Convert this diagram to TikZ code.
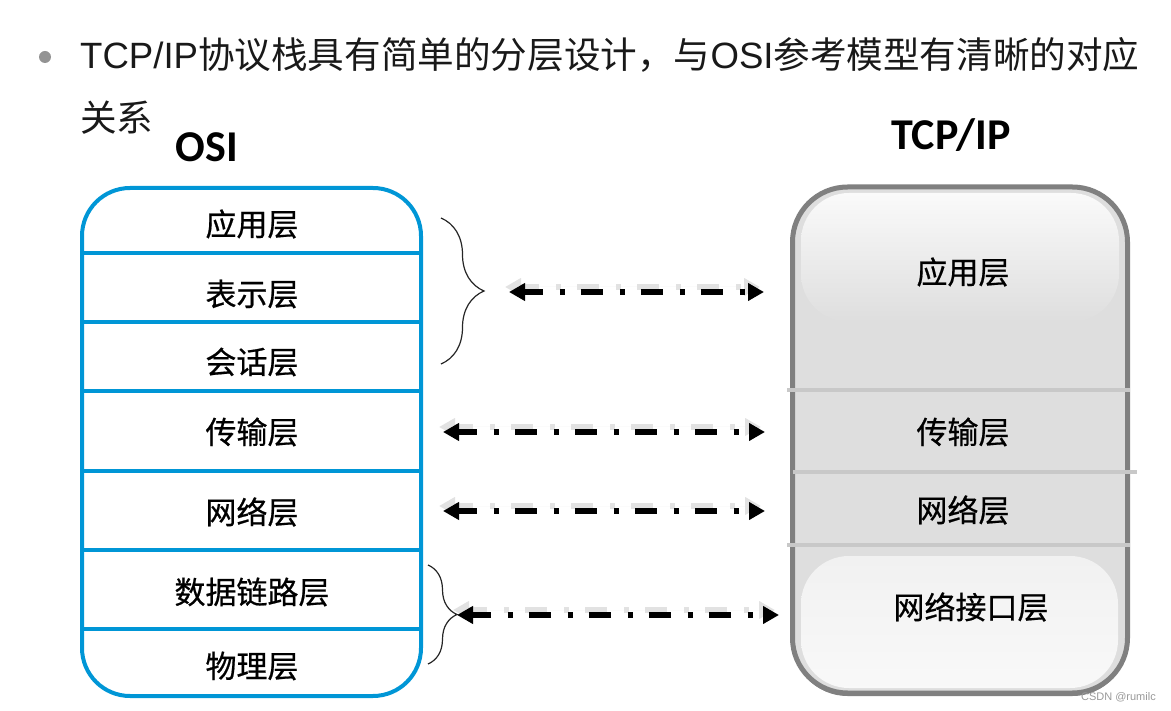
\documentclass[tikz,border=0pt]{standalone}
\usepackage{fontspec}
\setmainfont{Noto Sans CJK SC}
\newfontfamily\latinfont{Liberation Sans}
\newfontfamily\titlefont{Carlito}
\newfontfamily\layerfont[FakeBold=0.6]{Noto Sans CJK SC}
\usetikzlibrary{arrows.meta,decorations.pathreplacing,shadows}
\tikzset{>={Triangle[width=17pt,length=16pt]}}

\definecolor{osiblue}{RGB}{0,150,214}
\definecolor{tcpedge}{RGB}{128,128,128}
\definecolor{tcpfill}{RGB}{222,222,222}
\definecolor{tcpsep}{RGB}{200,200,200}
\definecolor{linkshade}{RGB}{226,226,226}

\tikzset{
  heading/.style={anchor=west, inner sep=0pt, text=black!90, font=\fontsize{36.6}{40}\selectfont},
  stacktitle/.style={inner sep=0pt, font=\titlefont\bfseries\fontsize{44}{44}\selectfont},
  layer/.style={inner sep=0pt, font=\layerfont\fontsize{31}{31}\selectfont},
  osiframe/.style={draw=osiblue, line width=4pt, rounded corners=48pt, inner sep=0pt},
  osisep/.style={draw=osiblue, line width=4pt},
  tcpframe/.style={draw=tcpedge, line width=5pt, fill=tcpfill, rounded corners=55pt, inner sep=0pt,
    drop shadow={shadow xshift=0pt, shadow yshift=-3pt, fill=tcpedge, opacity=1}},
  tcpsepline/.style={draw=tcpsep, line width=4pt},
  glow/.style={rounded corners=48pt},
  maplink/.style={<->, line width=6pt, dash pattern=on 22pt off 17pt on 5pt off 16pt, dash phase=3pt},
  mapshade/.style={maplink, draw=linkshade, fill=linkshade},
  bracket/.style={draw=black!85, line width=1.2pt, decorate},
}

\begin{document}
\begin{tikzpicture}[x=1pt,y=-1pt]
  \useasboundingbox (0,0) rectangle (1171,711);

  %% heading
  \node[circle, fill=gray!85, inner sep=0pt, minimum size=12pt] (dot) at (45,57) {};
  \node[heading] (line1) at (80,55) {{\latinfont TCP/IP}协议栈具有简单的分层设计，与{\latinfont OSI}参考模型有清晰的对应};
  \node[heading] (line2) at (80,118) {关系};

  \node[stacktitle] (osititle) at (207,147) {OSI};
  \node[stacktitle] (tcptitle) at (951,135) {TCP/IP};

  %% OSI stack
  \node[osiframe, minimum width=339pt, minimum height=508pt] (osi) at (251.5,442) {};
  \draw[osisep] (osi.west |- 0,253) -- (osi.east |- 0,253);
  \draw[osisep] (osi.west |- 0,322) -- (osi.east |- 0,322);
  \draw[osisep] (osi.west |- 0,391) -- (osi.east |- 0,391);
  \draw[osisep] (osi.west |- 0,471) -- (osi.east |- 0,471);
  \draw[osisep] (osi.west |- 0,550) -- (osi.east |- 0,550);
  \draw[osisep] (osi.west |- 0,629) -- (osi.east |- 0,629);

  \node[layer] (osi-app)  at (252,224) {应用层};
  \node[layer] (osi-pres) at (252,294) {表示层};
  \node[layer] (osi-sess) at (252,362) {会话层};
  \node[layer] (osi-trans) at (252,432) {传输层};
  \node[layer] (osi-net)  at (252,512) {网络层};
  \node[layer] (osi-link) at (252,592) {数据链路层};
  \node[layer] (osi-phy)  at (252,666) {物理层};

  %% TCP/IP stack
  \node[tcpframe, minimum width=335pt, minimum height=506pt] (tcp) at (960,440) {};
  \path[glow, top color=white!85!tcpfill, bottom color=tcpfill] (801,193) rectangle (1119,322);
  \path[glow, top color=gray!11, bottom color=gray!5] (801,556) rectangle (1118,688);
  \draw[tcpsepline] (787,390) -- (1130,390);
  \draw[tcpsepline] (793,472) -- (1137,472);
  \draw[tcpsepline] (787,545) -- (1130,545);

  \node[layer] (tcp-app)  at (963,272) {应用层};
  \node[layer] (tcp-trans) at (963,432) {传输层};
  \node[layer] (tcp-net)  at (963,510) {网络层};
  \node[layer] (tcp-link) at (971,607) {网络接口层};

  %% braces
  \coordinate (upper-a) at (441,218);
  \coordinate (upper-b) at (441,364);
  \coordinate (lower-a) at (428,565);
  \coordinate (lower-b) at (428,664);
  \draw[bracket, decoration={brace, amplitude=43pt, aspect=0.5}] (upper-a) -- (upper-b);
  \draw[bracket, decoration={brace, amplitude=29pt, aspect=0.5}] (lower-a) -- (lower-b);

  %% link ends
  \coordinate (l1) at (509,292);  \coordinate (r1) at (764,292);
  \coordinate (l2) at (443,432);  \coordinate (r2) at (765,432);
  \coordinate (l3) at (443,511);  \coordinate (r3) at (765,511);
  \coordinate (l4) at (457,615);  \coordinate (r4) at (779,615);

  \draw[mapshade] ([shift={(-4,-5)}]l1) -- ([shift={(-4,-5)}]r1);
  \draw[mapshade] ([shift={(-4,-5)}]l2) -- ([shift={(-4,-5)}]r2);
  \draw[mapshade] ([shift={(-4,-5)}]l3) -- ([shift={(-4,-5)}]r3);
  \draw[mapshade] ([shift={(-4,-5)}]l4) -- ([shift={(-4,-5)}]r4);

  \draw[maplink] (l1) -- (r1); %% app
  \draw[maplink] (l2) -- (r2); %% transport
  \draw[maplink] (l3) -- (r3); %% network
  \draw[maplink] (l4) -- (r4); %% link

  \node[anchor=east, inner sep=0pt, text=gray!80, font=\latinfont\fontsize{11}{11}\selectfont] (mark) at (1156,697) {CSDN @rumilc};
\end{tikzpicture}
\end{document}
